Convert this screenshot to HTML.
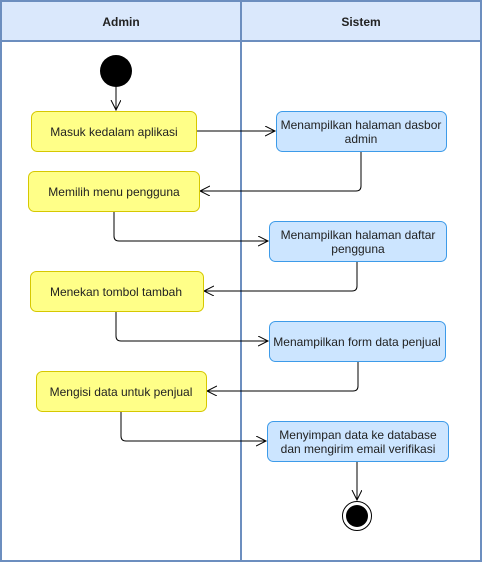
<!DOCTYPE html>
<html><head><style>body{margin:0;background:#fff}svg{display:block}text{font-family:"Liberation Sans",sans-serif;font-size:12px;fill:#222}</style></head><body>
<svg width="482" height="562" viewBox="0 0 482 562" xmlns="http://www.w3.org/2000/svg">
<defs><marker id="a" markerWidth="12" markerHeight="12" refX="10" refY="5" orient="auto" markerUnits="userSpaceOnUse"><path d="M0,0 L10,5 L0,10" fill="none" stroke="#000" stroke-width="1"/></marker></defs>
<rect x="1" y="1" width="240" height="560" fill="#fff" stroke="#6c8ebf" stroke-width="2"/>
<rect x="241" y="1" width="240" height="560" fill="#fff" stroke="#6c8ebf" stroke-width="2"/>
<rect x="1" y="1" width="240" height="40" fill="#dae8fc" stroke="#6c8ebf" stroke-width="2"/>
<rect x="241" y="1" width="240" height="40" fill="#dae8fc" stroke="#6c8ebf" stroke-width="2"/>
<text x="121" y="26" text-anchor="middle" font-weight="bold">Admin</text>
<text x="361" y="26" text-anchor="middle" font-weight="bold">Sistem</text>
<circle cx="116" cy="71" r="16" fill="#000"/>
<g fill="none" stroke="#000" stroke-width="1" marker-end="url(#a)">
<path d="M116,87 V110"/>
<path d="M196,131 H275"/>
<path d="M361,151 V186 Q361,191 356,191 H200"/>
<path d="M114,211 V236 Q114,241 119,241 H268"/>
<path d="M357,261 V286 Q357,291 352,291 H204"/>
<path d="M116,311 V336 Q116,341 121,341 H268"/>
<path d="M358,361 V386 Q358,391 353,391 H207"/>
<path d="M121,411 V436 Q121,441 126,441 H266"/>
<path d="M357,461 V500"/>
</g>
<g fill="#ffff88" stroke="#d6c800" stroke-width="1">
<rect x="31.5" y="111.5" width="165" height="40" rx="6"/>
<rect x="28.5" y="171.5" width="171" height="40" rx="6"/>
<rect x="30.5" y="271.5" width="173" height="40" rx="6"/>
<rect x="36.5" y="371.5" width="170" height="40" rx="6"/>
</g>
<g fill="#cce5ff" stroke="#3d9be9" stroke-width="1">
<rect x="276.5" y="111.5" width="170" height="40" rx="6"/>
<rect x="269.5" y="221.5" width="177" height="40" rx="6"/>
<rect x="269.5" y="321.5" width="176" height="40" rx="6"/>
<rect x="267.5" y="421.5" width="181" height="40" rx="6"/>
</g>
<text x="114" y="136" text-anchor="middle">Masuk kedalam aplikasi</text>
<text x="114" y="196" text-anchor="middle">Memilih menu pengguna</text>
<text x="116" y="296" text-anchor="middle">Menekan tombol tambah</text>
<text x="121" y="396" text-anchor="middle">Mengisi data untuk penjual</text>
<text x="361" y="129" text-anchor="middle">Menampilkan halaman dasbor</text>
<text x="361" y="143" text-anchor="middle">admin</text>
<text x="358" y="239" text-anchor="middle">Menampilkan halaman daftar</text>
<text x="358" y="253" text-anchor="middle">pengguna</text>
<text x="357" y="346" text-anchor="middle">Menampilkan form data penjual</text>
<text x="358" y="439" text-anchor="middle">Menyimpan data ke database</text>
<text x="358" y="453" text-anchor="middle">dan mengirim email verifikasi</text>
<circle cx="357" cy="516" r="14.5" fill="#fff" stroke="#000" stroke-width="1"/>
<circle cx="357" cy="516" r="11" fill="#000"/>
</svg>
</body></html>
